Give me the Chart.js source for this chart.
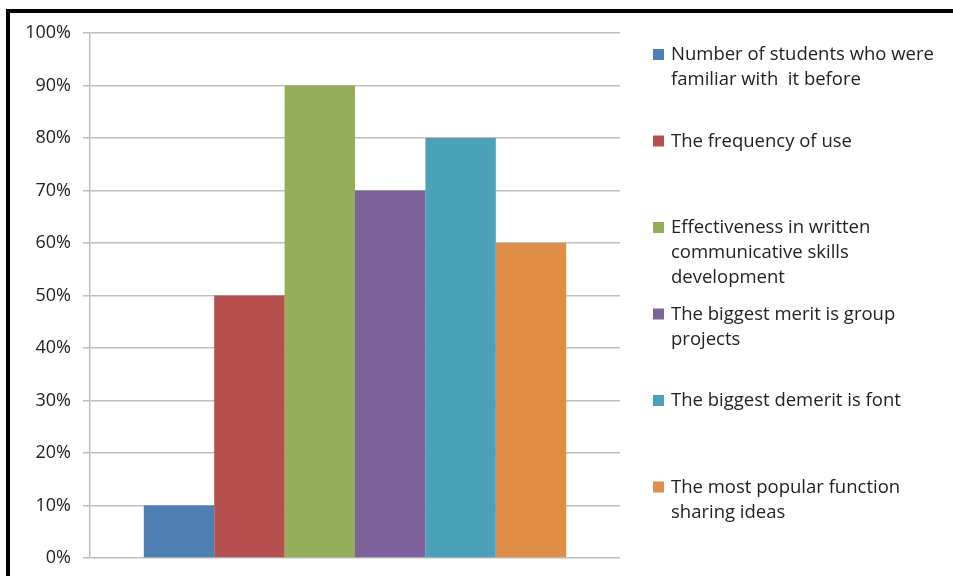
<!DOCTYPE html>
<html>
<head>
<meta charset="utf-8">
<script src="https://cdn.jsdelivr.net/npm/chart.js@4.4.1/dist/chart.umd.min.js"></script>
<style>
    html, body { margin: 0; padding: 0; background: #fff; }
    #wrap { position: relative; width: 953px; height: 576px; }
    #frame {
        position: absolute; left: 6px; top: 9px; right: 0; bottom: 0;
        border-top: 4px solid #000; border-left: 4px solid #000;
        pointer-events: none;
    }
    canvas { position: absolute; left: 0; top: 0; }
</style>
</head>
<body>
<div id="wrap">
    <canvas id="myChart" width="953" height="576"></canvas>
    <div id="frame"></div>
</div>
<script>
// data
var categories = [''];
var seriesNames = [
    ['Number of students who were', 'familiar with  it before'],
    ['The frequency of use'],
    ['Effectiveness in written', 'communicative skills', 'development'],
    ['The biggest merit is group', 'projects'],
    ['The biggest demerit is font'],
    ['The most popular function', 'sharing ideas']
];
var seriesValues = [10, 50, 90, 70, 80, 60];
var seriesColors = ['#4f7eb1', '#b5504f', '#95ae59', '#7d6399', '#4ba2b8', '#df8d47'];

var fontFamily = "'Open Sans', 'Noto Sans', 'Liberation Sans', sans-serif";

var datasets = [];
for (var i = 0; i < seriesValues.length; i++) {
    datasets.push({
        label: seriesNames[i].join(' '),
        data: [seriesValues[i]],
        backgroundColor: seriesColors[i],
        borderWidth: 0,
        categoryPercentage: 0.797,
        barPercentage: 1.0
    });
}

// legend on the right, one entry per series, multi-line labels
var sideLegend = {
    id: 'sideLegend',
    afterDraw: function (chart) {
        var ctx = chart.ctx;
        var area = chart.chartArea;
        var boxX = area.right + 33;
        var textX = area.right + 51;
        var firstY = area.top + 22;
        var pitch = 86.5;
        var lineH = 25;
        ctx.save();
        ctx.font = '18.5px ' + fontFamily;
        ctx.textBaseline = 'middle';
        ctx.textAlign = 'left';
        chart.data.datasets.forEach(function (ds, idx) {
            var y = firstY + idx * pitch;
            ctx.fillStyle = ds.backgroundColor;
            ctx.fillRect(boxX, y - 6, 11, 11);
            ctx.fillStyle = '#222';
            seriesNames[idx].forEach(function (line, k) {
                ctx.fillText(line, textX, y + k * lineH);
            });
        });
        ctx.restore();
    }
};

var ctx = document.getElementById('myChart').getContext('2d');
var myChart = new Chart(ctx, {
    type: 'bar',
    data: {
        labels: categories,
        datasets: datasets
    },
    plugins: [sideLegend],
    options: {
        responsive: false,
        animation: false,
        layout: {
            padding: { left: 0, top: 33, right: 333, bottom: 18 }
        },
        plugins: {
            legend: { display: false },
            tooltip: { enabled: false }
        },
        scales: {
            x: {
                display: false
            },
            y: {
                min: 0,
                max: 100,
                afterFit: function (scale) {
                    scale.width = 90;
                    scale.paddingTop = 0;
                    scale.paddingBottom = 0;
                },
                ticks: {
                    stepSize: 10,
                    padding: 12,
                    color: '#222',
                    font: { family: fontFamily, size: 18 },
                    callback: function (value) {
                        return value + '%';
                    }
                },
                grid: {
                    color: '#bfbfbf',
                    lineWidth: 1.5,
                    tickLength: 7
                },
                border: {
                    color: '#bfbfbf',
                    width: 1.5
                }
            }
        }
    }
});
</script>
</body>
</html>
